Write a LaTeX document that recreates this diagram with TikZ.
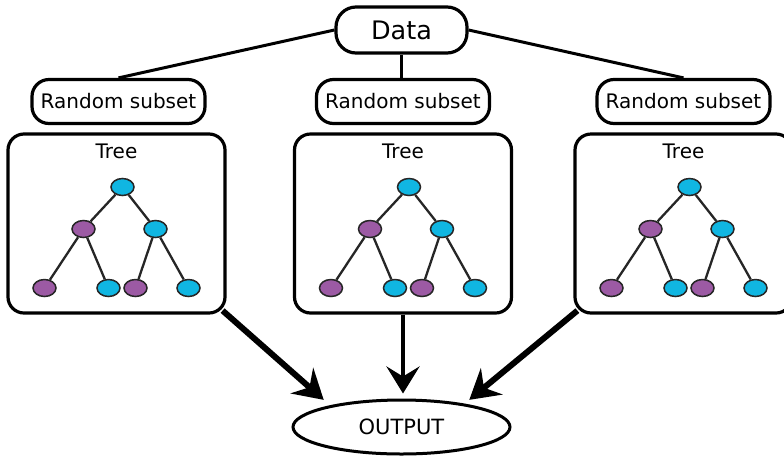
\documentclass[tikz,border=0pt]{standalone}
\usepackage{fontspec}
\setmainfont{DejaVu Sans}
\usetikzlibrary{shapes.geometric,arrows.meta,calc}
\definecolor{nodecyan}{RGB}{16,182,226}
\definecolor{nodepurple}{RGB}{156,90,164}
\begin{document}
\begin{tikzpicture}[x=1pt,y=-1pt,
  pill/.style={draw,line width=3.2pt,rounded corners=17pt,minimum width=173pt,minimum height=44pt,inner sep=0pt,font=\fontsize{20}{24}\selectfont},
  treebox/.style={draw,line width=3.2pt,rounded corners=16pt,minimum width=217pt,minimum height=179pt,inner sep=0pt},
  treelabel/.style={inner sep=0pt,font=\fontsize{20}{24}\selectfont},
  tnode/.style={ellipse,draw=black!85,line width=1.5pt,minimum width=23pt,minimum height=17pt,inner sep=0pt},
  cnode/.style={tnode,fill=nodecyan},
  pnode/.style={tnode,fill=nodepurple},
  tedge/.style={draw=black!85,line width=2.3pt},
  link/.style={draw,line width=3pt},
  bigarrow/.style={line width=6pt,-{Stealth[length=29pt,width=34pt,inset=10pt]}},
  midarrow/.style={line width=4.2pt,-{Stealth[length=27pt,width=33pt,inset=10pt]}}
]
\useasboundingbox (0,0) rectangle (784,459);
\fill[white] (0,0) rectangle (784,459);

\node[pill,minimum width=131pt,minimum height=46pt,rounded corners=20pt,font=\fontsize{25.5}{30}\selectfont] (data) at (401.5,30) {Data};

\node[pill] (rs1) at (118.5,101.5) {Random subset};
\node[pill] (rs2) at (403,101.5) {Random subset};
\node[pill] (rs3) at (683.5,101.5) {Random subset};

\draw[link] (data.west) -- (rs1.north);
\draw[link] (data.south) -- (data.south |- rs2.north);
\draw[link] (data.east) -- (rs3.north);

\foreach \i/\cx in {1/116.5,2/403,3/683.5}{
  \node[treebox] (t\i) at (\cx,223.5) {};
  \node[treelabel] (lab\i) at (\cx,151) {Tree};
  \node[cnode] (r\i) at (\cx+6,187) {};
  \node[pnode] (ml\i) at (\cx-33,229) {};
  \node[cnode] (mr\i) at (\cx+39,229) {};
  \node[pnode] (l1\i) at (\cx-72,288) {};
  \node[cnode] (l2\i) at (\cx-8,288) {};
  \node[pnode] (l3\i) at (\cx+19,288) {};
  \node[cnode] (l4\i) at (\cx+72,288) {};
  \draw[tedge] (r\i) -- (ml\i);
  \draw[tedge] (r\i) -- (mr\i);
  \draw[tedge] (ml\i) -- (l1\i);
  \draw[tedge] (ml\i) -- (l2\i);
  \draw[tedge] (mr\i) -- (l3\i);
  \draw[tedge] (mr\i) -- (l4\i);
}

\node[ellipse,draw,line width=3pt,minimum width=217pt,minimum height=54pt,inner sep=0pt,font=\fontsize{21}{24}\selectfont] (out) at (401.5,427) {OUTPUT};

\draw[bigarrow] ($(t1.south east)+(-4,-4)$) -- ($(out.north west)+(0,-7)$);
\draw[midarrow] (t2.south) -- ($(t2.south |- out.north)+(0,-5)$);
\draw[bigarrow] ($(t3.south west)+(4,-4)$) -- ($(out.north east)+(-10,-7)$);
\end{tikzpicture}
\end{document}
